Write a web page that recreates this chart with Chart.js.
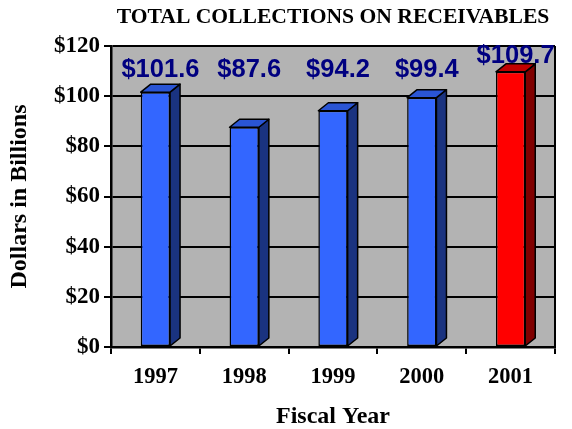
<!DOCTYPE html>
<html>
<head>
<meta charset="utf-8">
<script src="https://cdn.jsdelivr.net/npm/chart.js@4.4.0/dist/chart.umd.min.js"></script>
<style>
  html, body { margin: 0; padding: 0; background: #ffffff; }
  #wrap { width: 572px; height: 429px; }
</style>
</head>
<body>
<div id="wrap"><canvas id="c" width="572" height="429"></canvas></div>
<script>
const categories = ['1997', '1998', '1999', '2000', '2001'];
const collections = [101.6, 87.6, 94.2, 99.4, 109.7];
const valueLabels = ['$101.6', '$87.6', '$94.2', '$99.4', '$109.7'];
const yTicks = [0, 20, 40, 60, 80, 100, 120];

const frontColors = ['#3366FF', '#3366FF', '#3366FF', '#3366FF', '#FF0000'];
const sideColors  = ['#1A3380', '#1A3380', '#1A3380', '#1A3380', '#800000'];
const topColors   = ['#2A55D4', '#2A55D4', '#2A55D4', '#2A55D4', '#C00000'];

const DX = 10, DY = 8;
const SERIF = '"Liberation Serif", "Times New Roman", serif';
const SANS = '"Liberation Sans", Arial, sans-serif';

const plotBg = {
  id: 'plotBg',
  beforeDraw(chart) {
    const {ctx, chartArea: a} = chart;
    ctx.save();
    ctx.fillStyle = '#B3B3B3';
    ctx.fillRect(a.left, a.top, a.right - a.left, a.bottom - a.top);
    ctx.restore();
  },
  beforeDatasetsDraw(chart) {
    const {ctx, chartArea: a} = chart;
    ctx.save();
    ctx.strokeStyle = '#000';
    ctx.lineWidth = 2;
    ctx.beginPath();
    ctx.moveTo(a.right, a.top);
    ctx.lineTo(a.right, a.bottom);
    ctx.stroke();
    ctx.restore();
  }
};

const bars3d = {
  id: 'bars3d',
  afterDatasetsDraw(chart) {
    const {ctx} = chart;
    const meta = chart.getDatasetMeta(0);
    const yScale = chart.scales.y;
    ctx.save();
    ctx.lineWidth = 1.5;
    ctx.strokeStyle = '#000';
    ctx.lineJoin = 'round';
    meta.data.forEach((bar, i) => {
      const p = bar.getProps(['x', 'y', 'base', 'width'], true);
      const l = p.x - p.width / 2, r = p.x + p.width / 2, t = p.y, b = p.base;
      ctx.fillStyle = sideColors[i];
      ctx.beginPath();
      ctx.moveTo(r, t); ctx.lineTo(r + DX, t - DY); ctx.lineTo(r + DX, b - DY); ctx.lineTo(r, b);
      ctx.closePath(); ctx.fill(); ctx.stroke();
      ctx.fillStyle = topColors[i];
      ctx.beginPath();
      ctx.moveTo(l, t); ctx.lineTo(l + DX, t - DY); ctx.lineTo(r + DX, t - DY); ctx.lineTo(r, t);
      ctx.closePath(); ctx.fill(); ctx.stroke();
    });
    ctx.fillStyle = '#000080';
    ctx.font = 'bold 25.5px ' + SANS;
    ctx.textAlign = 'center';
    ctx.textBaseline = 'middle';
    const labelRow = yScale.getPixelForValue(110.4);
    meta.data.forEach((bar, i) => {
      const p = bar.getProps(['x', 'y'], true);
      const y = Math.min(labelRow, p.y - 16);
      ctx.fillText(valueLabels[i], p.x + DX / 2, y);
    });
    ctx.restore();
  }
};

new Chart(document.getElementById('c'), {
  type: 'bar',
  data: {
    labels: categories,
    datasets: [{
      data: collections,
      backgroundColor: frontColors,
      borderColor: '#000',
      borderWidth: 1.5,
      borderSkipped: false,
      categoryPercentage: 1,
      barPercentage: 0.33
    }]
  },
  options: {
    responsive: false,
    animation: false,
    devicePixelRatio: 1,
    layout: { padding: { left: 0, right: 17, top: 0, bottom: 0 } },
    plugins: {
      legend: { display: false },
      tooltip: { enabled: false },
      title: {
        display: true,
        fullSize: false,
        text: 'TOTAL COLLECTIONS ON RECEIVABLES',
        color: '#000',
        font: { family: SERIF, size: 21.6, weight: 'bold', lineHeight: 1 },
        padding: { top: 6.5, bottom: 17.9 }
      }
    },
    scales: {
      x: {
        grid: { offset: true, drawOnChartArea: false, color: '#000', lineWidth: 2, tickLength: 7 },
        border: { display: true, color: '#000', width: 2.5 },
        ticks: { color: '#000', font: { family: SERIF, size: 22.5, weight: 'bold' }, padding: 10, maxRotation: 0 },
        title: {
          display: true, text: 'Fiscal Year', color: '#000',
          font: { family: SERIF, size: 24, weight: 'bold', lineHeight: 1 },
          padding: { top: 0, bottom: 0.5 }
        },
        afterFit(scale) { scale.height = 82; }
      },
      y: {
        min: 0, max: 120,
        afterBuildTicks(scale) { scale.ticks = yTicks.map(v => ({ value: v })); },
        grid: { color: '#000', lineWidth: 2, tickLength: 7 },
        border: { display: true, color: '#000', width: 2.5 },
        ticks: {
          color: '#000', padding: 4,
          font: { family: SERIF, size: 23, weight: 'bold' },
          callback: v => '$' + v
        },
        title: {
          display: true, text: 'Dollars in Billions', color: '#000',
          font: { family: SERIF, size: 24, weight: 'bold', lineHeight: 1 },
          padding: { top: 8, bottom: 0 }
        },
        afterFit(scale) { scale.width = 111; }
      }
    }
  },
  plugins: [plotBg, bars3d]
});
</script>
</body>
</html>
